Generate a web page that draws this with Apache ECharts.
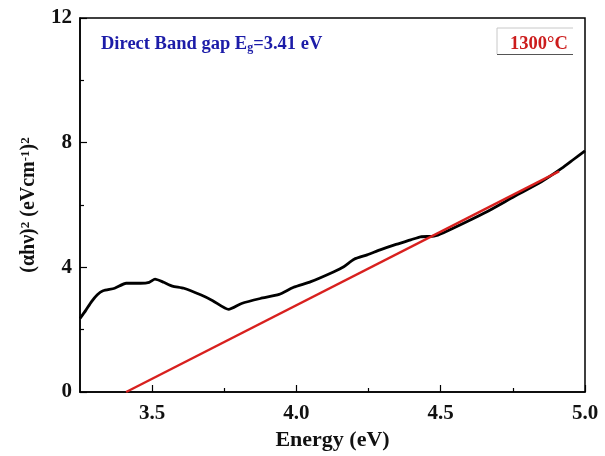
<!DOCTYPE html>
<html>
<head>
<meta charset="utf-8">
<script src="https://cdn.jsdelivr.net/npm/echarts@6/dist/echarts.min.js"></script>
<style>
  html, body { margin: 0; padding: 0; background: #fff; }
  #chart { width: 605px; height: 456px; }
</style>
</head>
<body>
<div id="chart"></div>
<script>
// Tauc plot: (αhν)^2 versus photon energy, with the linear fit extrapolated to zero
const energy = [3.25, 3.27, 3.29, 3.31, 3.33, 3.37, 3.41, 3.46, 3.49, 3.51, 3.54, 3.57, 3.61, 3.67, 3.71, 3.765, 3.81, 3.875, 3.94, 3.99, 4.05, 4.13, 4.164, 4.20, 4.245, 4.29, 4.34, 4.396, 4.43, 4.477, 4.51, 4.59, 4.66, 4.755, 4.85, 4.92, 4.96, 5.0];
const alphaHvSq = [2.36, 2.62, 2.90, 3.12, 3.25, 3.33, 3.49, 3.49, 3.52, 3.62, 3.52, 3.40, 3.33, 3.11, 2.93, 2.65, 2.84, 3.00, 3.13, 3.36, 3.54, 3.86, 4.02, 4.26, 4.40, 4.56, 4.72, 4.88, 4.98, 5.00, 5.11, 5.46, 5.78, 6.27, 6.75, 7.18, 7.46, 7.74];

// linear fit, intercept on the energy axis gives Eg
const fitEnergy = [3.41, 4.91];
const fitValue = [0, 7.08];

const xMajorTicks = [3.5, 4.0, 4.5, 5.0];
const xMinorTicks = [3.75, 4.25, 4.75];
const yTicks = [0, 4, 8, 12];

const serif = '"Liberation Serif", "Times New Roman", serif';

const curve = energy.map((e, i) => [e, alphaHvSq[i]]);
const fit = fitEnergy.map((e, i) => [e, fitValue[i]]);

const chart = echarts.init(document.getElementById('chart'), null, { renderer: 'canvas' });

const gridBox = { left: 80, right: 20, top: 18, bottom: 64, containLabel: false, outerBoundsMode: 'none' };

chart.setOption({
  animation: false,
  backgroundColor: '#fff',
  grid: [
    Object.assign({ show: true, borderColor: '#000', borderWidth: 1.5, backgroundColor: 'transparent' }, gridBox),
    Object.assign({ show: false }, gridBox)
  ],
  xAxis: [
    {
      type: 'value', gridIndex: 0,
      min: 3.25, max: 5.0, interval: 0.25,
      name: 'Energy (eV)', nameLocation: 'middle', nameGap: 37, nameMoveOverlap: false,
      nameTextStyle: { fontFamily: serif, fontWeight: 'bold', fontSize: 22, color: '#111' },
      axisLine: { show: true, lineStyle: { color: '#000', width: 1.5 } },
      axisTick: { show: true, inside: true, length: 7, customValues: xMajorTicks, lineStyle: { color: '#000', width: 1.2 } },
      axisLabel: {
        customValues: xMajorTicks, margin: 11,
        fontFamily: serif, fontWeight: 'bold', fontSize: 21, color: '#111',
        formatter: v => v.toFixed(1)
      },
      splitLine: { show: false }
    },
    {
      type: 'value', gridIndex: 1,
      min: 3.25, max: 5.0, interval: 0.25,
      axisLine: { show: false },
      axisTick: { show: true, inside: true, length: 4, customValues: xMinorTicks, lineStyle: { color: '#000', width: 1.2 } },
      axisLabel: { show: false },
      splitLine: { show: false }
    }
  ],
  yAxis: [
    {
      type: 'value', gridIndex: 0,
      min: 0, max: 12, interval: 4,
      name: '(αhν){sup|2} (eVcm{sup|-1}){sup|2}', nameLocation: 'middle', nameGap: 41, nameRotate: 90, nameMoveOverlap: false,
      nameTextStyle: {
        fontFamily: serif, fontWeight: 'bold', fontSize: 20, color: '#111',
        rich: {
          sup: { fontFamily: serif, fontWeight: 'bold', fontSize: 13, color: '#111', lineHeight: 13, padding: [0, 0, 16, 0], verticalAlign: 'top' }
        }
      },
      axisLine: { show: true, lineStyle: { color: '#000', width: 1.5 } },
      axisTick: { show: true, inside: true, length: 7, lineStyle: { color: '#000', width: 1.2 } },
      minorTick: { show: true, splitNumber: 2, length: 4, lineStyle: { color: '#000', width: 1.2 } },
      axisLabel: {
        margin: 8,
        fontFamily: serif, fontWeight: 'bold', fontSize: 21, color: '#111',
        customValues: yTicks
      },
      splitLine: { show: false }
    },
    {
      type: 'value', gridIndex: 1, min: 0, max: 12, show: false
    }
  ],
  series: [
    {
      type: 'line', name: 'data', xAxisIndex: 0, yAxisIndex: 0,
      data: curve, showSymbol: false, smooth: 0.2,
      lineStyle: { color: '#000', width: 2.8 },
      z: 2
    },
    {
      type: 'line', name: 'fit', xAxisIndex: 0, yAxisIndex: 0,
      data: fit, showSymbol: false,
      lineStyle: { color: '#d8201e', width: 2.4 },
      z: 3
    }
  ],
  graphic: [
    {
      type: 'text', left: 101, top: 27,
      style: {
        text: 'Direct Band gap E{sub|g}=3.41 eV',
        fontFamily: serif, fontWeight: 'bold', fontSize: 18.5, fill: '#1c1ca8',
        rich: {
          sub: { fontFamily: serif, fontWeight: 'bold', fontSize: 12, fill: '#1c1ca8', lineHeight: 12, padding: [15, 0, 0, 0], verticalAlign: 'bottom' }
        }
      }
    },
    {
      type: 'polyline', silent: true,
      shape: { points: [[573, 28], [497, 28], [497, 54]] },
      style: { stroke: '#c8c8c8', lineWidth: 1, fill: null }
    },
    {
      type: 'line', silent: true,
      shape: { x1: 497, y1: 54.5, x2: 573, y2: 54.5 },
      style: { stroke: '#555', lineWidth: 1 }
    },
    {
      type: 'text', left: 510, top: 35,
      style: { text: '1300°C', fontFamily: serif, fontWeight: 'bold', fontSize: 18.5, fill: '#cc1c1c' }
    }
  ]
});
</script>
</body>
</html>
